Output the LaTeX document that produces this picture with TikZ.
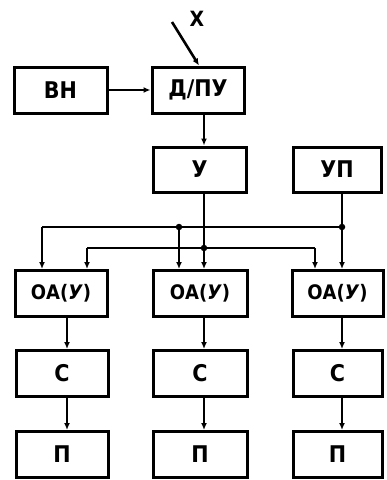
\documentclass[tikz,border=0pt]{standalone}
\usepackage{fontspec}
\setmainfont{DejaVu Sans Condensed}
\usetikzlibrary{arrows.meta}
\begin{document}
\begin{tikzpicture}[x=1pt,y=-1pt,
  blk/.style={draw,line width=3pt,minimum height=46pt,inner sep=0pt,
    font=\fontsize{23}{23}\selectfont\bfseries},
  oatext/.style={font=\fontsize{20}{20}\selectfont\bfseries},
  conn/.style={line width=2.6pt},
  arr/.style={conn,-{Latex[length=7pt,width=6pt]}},
  dot/.style={circle,fill,inner sep=0pt,minimum size=6.5pt}]
\useasboundingbox (0,0) rectangle (387,480);
% top row
\node[blk,minimum width=93pt] (vn) at (60.5,90) {ВН};
\node[blk,minimum width=92pt] (dpu) at (198,90) {Д/ПУ};
\node[blk,minimum width=93pt,minimum height=45pt] (u) at (199.5,169.5) {У};
\node[blk,minimum width=88pt,minimum height=45pt] (up) at (337,169.5) {УП};
% OA row
\node[blk,oatext,minimum width=92pt] (oa1) at (61,293.5) {ОА(\textit{У})};
\node[blk,oatext,minimum width=94pt] (oa2) at (200,293.5) {ОА(\textit{У})};
\node[blk,oatext,minimum width=91pt] (oa3) at (337.5,293.5) {ОА(\textit{У})};
% C row
\node[blk,minimum width=92pt] (c1) at (62,373.5) {С};
\node[blk,minimum width=94pt] (c2) at (200,373.5) {С};
\node[blk,minimum width=89pt] (c3) at (337.5,373.5) {С};
% P row
\node[blk,minimum width=92pt] (p1) at (62,454.5) {П};
\node[blk,minimum width=94pt] (p2) at (200,454.5) {П};
\node[blk,minimum width=89pt] (p3) at (337.5,454.5) {П};
% column x positions
\coordinate (k1) at (67,0);
\coordinate (k2) at (204,0);
\coordinate (k3) at (342,0);
% X input
\coordinate (xs) at (172,22);
\node[font=\fontsize{21}{21}\selectfont\bfseries] (xl) at (197,19) {Х};
\draw[arr] (xs) -- (dpu.north -| 199,0);
% BH -> D/PU
\draw[arr] (vn) -- (dpu);
% D/PU -> U
\draw[arr] (dpu.south -| k2) -- (u.north -| k2);
% buses
\coordinate (a1) at (42,227);
\coordinate (a2) at (179,227);
\coordinate (a3) at (342,227);
\coordinate (b1) at (87,248);
\coordinate (b2) at (204,248);
\coordinate (b3) at (315,248);
\draw[conn] (a1) -- (a3);
\draw[conn] (b1) -- (b3);
\draw[arr] (up.south -| k3) -- (oa3.north -| k3);
\draw[arr] (u.south -| k2) -- (oa2.north -| k2);
\draw[arr] (a1) -- (a1 |- oa1.north);
\draw[arr] (a2) -- (a2 |- oa2.north);
\draw[arr] (b1) -- (b1 |- oa1.north);
\draw[arr] (b3) -- (b3 |- oa3.north);
\node[dot] at (a2) {};
\node[dot] at (a3) {};
\node[dot] at (b2) {};
% columns
\draw[arr] (oa1.south -| k1) -- (c1.north -| k1);
\draw[arr] (c1.south -| k1) -- (p1.north -| k1);
\draw[arr] (oa2.south -| k2) -- (c2.north -| k2);
\draw[arr] (c2.south -| k2) -- (p2.north -| k2);
\draw[arr] (oa3.south -| k3) -- (c3.north -| k3);
\draw[arr] (c3.south -| k3) -- (p3.north -| k3);
\end{tikzpicture}
\end{document}
